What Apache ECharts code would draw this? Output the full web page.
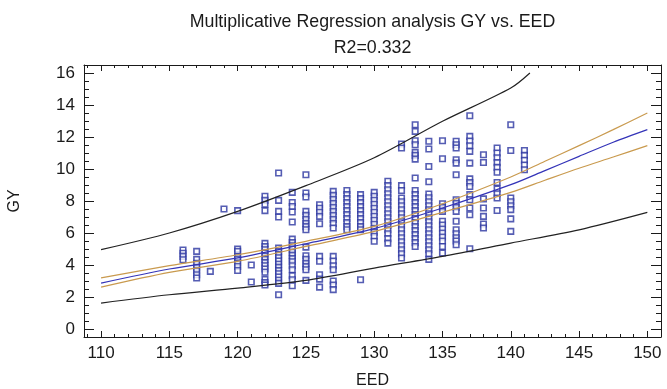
<!DOCTYPE html>
<html>
<head>
<meta charset="utf-8">
<script src="https://cdn.jsdelivr.net/npm/echarts@6/dist/echarts.min.js"></script>
<style>
  html, body { margin: 0; padding: 0; background: #fff; }
  #chart { width: 667px; height: 389px; }
</style>
</head>
<body>
<div id="chart"></div>
<script>
// observed EED columns and the GY values stacked on each
var eedCols = [116, 117, 118, 119, 120, 121, 122, 123, 124, 125, 126, 127, 128, 129,
  130, 131, 132, 133, 134, 135, 136, 137, 138, 139, 140, 141];
var gyCols = [
  [4.94, 4.73, 4.54, 4.33],
  [4.85, 4.35, 4.1, 3.85, 3.64, 3.39, 3.19],
  [3.6],
  [7.5],
  [7.4, 5.0, 4.85, 4.54, 4.37, 4.12, 3.91, 3.66],
  [4.0, 2.94],
  [8.3, 8.04, 7.8, 7.4, 5.35, 5.15, 4.95, 4.75, 4.55, 4.35, 4.15, 3.95, 3.75, 3.55, 3.1, 2.9, 2.75],
  [9.75, 8.04, 7.35, 7.0, 5.06, 4.85, 4.65, 4.45, 4.25, 4.05, 3.85, 3.65, 3.45, 3.25, 3.05, 2.85, 2.14],
  [8.54, 7.91, 7.66, 7.31, 6.69, 5.62, 5.4, 5.2, 5.0, 4.8, 4.6, 4.4, 4.2, 3.95, 3.7, 3.33, 3.08, 2.7],
  [9.64, 8.5, 8.25, 7.35, 7.1, 6.85, 6.6, 6.4, 6.2, 5.12, 4.58, 4.35, 4.1, 3.9, 3.7, 3.04],
  [7.77, 7.55, 7.3, 7.04, 6.58, 4.54, 4.23, 3.39, 3.12, 2.62],
  [8.6, 8.35, 8.1, 7.85, 7.6, 7.35, 7.1, 6.85, 6.6, 6.31, 4.54, 4.25, 3.95, 3.7, 3.0, 2.75, 2.46],
  [8.66, 8.4, 8.15, 7.9, 7.65, 7.4, 7.15, 6.9, 6.65, 6.4, 6.2],
  [8.4, 8.15, 7.9, 7.65, 7.4, 7.15, 6.9, 6.65, 6.4, 6.2, 3.08],
  [8.54, 8.3, 8.05, 7.8, 7.55, 7.3, 7.05, 6.8, 6.55, 6.3, 6.05, 5.8, 5.48],
  [9.23, 8.96, 8.7, 8.45, 8.2, 7.95, 7.7, 7.45, 7.2, 6.95, 6.7, 6.45, 6.2, 5.95, 5.65, 5.37],
  [11.56, 11.31, 8.96, 8.66, 8.19, 7.95, 7.7, 7.45, 7.2, 6.95, 6.7, 6.45, 6.2, 5.95, 5.7, 5.45, 5.2, 4.95, 4.7, 4.44],
  [12.77, 12.35, 11.77, 11.52, 11.04, 10.85, 10.62, 9.44, 8.66, 8.4, 8.15, 7.9, 7.65, 7.4, 7.15, 6.9, 6.65, 6.4, 6.15, 5.9, 5.65, 5.4, 5.16],
  [11.73, 11.25, 10.16, 9.2, 8.44, 8.2, 7.95, 7.7, 7.45, 7.2, 6.95, 6.7, 6.45, 6.2, 5.95, 5.7, 5.45, 5.2, 4.95, 4.7, 4.35],
  [11.77, 10.64, 7.83, 7.6, 7.35, 6.73, 6.5, 6.25, 6.0, 5.75, 5.5, 5.16, 4.75],
  [11.73, 11.52, 11.31, 10.58, 10.37, 9.64, 8.08, 7.85, 7.6, 7.35, 6.73, 6.2, 5.95, 5.7, 5.5, 5.27],
  [13.33, 12.04, 11.75, 11.45, 11.1, 10.37, 9.38, 9.15, 8.91, 8.4, 8.08, 7.56, 7.14, 5.02],
  [10.89, 10.41, 8.13, 7.56, 7.04, 6.56, 6.31],
  [11.31, 11.0, 10.7, 10.4, 10.1, 9.8, 9.16, 8.75, 8.45, 8.19, 7.41],
  [12.77, 11.16, 8.19, 7.95, 7.7, 7.46, 6.88, 6.1],
  [11.16, 10.85, 10.55, 10.25, 9.95]
];

// fitted curve, 95% confidence band (orange), prediction band (black)
var fitX = [110, 115, 120, 125, 130, 135, 140, 142.5, 145, 147.5, 150];
var fitY = [2.87, 3.75, 4.44, 5.33, 6.27, 7.56, 9.02, 9.9, 10.79, 11.67, 12.46];
var confHi = [3.19, 3.96, 4.64, 5.48, 6.41, 7.83, 9.5, 10.48, 11.46, 12.46, 13.5];
var confLo = [2.62, 3.54, 4.23, 5.16, 6.1, 7.29, 8.54, 9.3, 10.05, 10.75, 11.46];
var predLoX = [110, 115, 120, 125, 130, 135, 140, 145, 150];
var predLo = [1.62, 2.14, 2.56, 3.04, 3.81, 4.54, 5.37, 6.2, 7.29];
var predHiX = [110, 115, 120, 125, 130, 135, 140, 141.4];
var predHi = [4.96, 6.0, 7.35, 8.96, 10.7, 12.98, 15.06, 16.0];

var xLabels = [110, 115, 120, 125, 130, 135, 140, 145, 150];
var yLabels = [0, 2, 4, 6, 8, 10, 12, 14, 16];

var xMinor = [];
for (var i = 109; i <= 151; i++) xMinor.push(i);
var yMinor = [];
for (var j = -0.5; j <= 16.5; j += 0.5) yMinor.push(j);

var pts = [];
eedCols.forEach(function (x, k) {
  gyCols[k].forEach(function (y) { pts.push([x, y]); });
});

function pairs(xs, ys) {
  return xs.map(function (x, k) { return [x, ys[k]]; });
}

var FONT = '"Liberation Sans", Arial, sans-serif';
var INK = '#1a1a1a';

function xAx(pos, ticks, len, labels, lineShow) {
  return {
    type: 'value', position: pos, min: 108.75, max: 151,
    axisLine: { show: lineShow, onZero: false, lineStyle: { color: INK, width: 1 } },
    axisTick: { show: true, inside: true, length: len, customValues: ticks, lineStyle: { color: INK } },
    axisLabel: labels ? { show: true, customValues: xLabels, fontSize: 17, color: INK, fontFamily: FONT, margin: 8 } : { show: false },
    splitLine: { show: false }
  };
}
function yAx(pos, ticks, len, labels, lineShow) {
  return {
    type: 'value', position: pos, min: -0.5, max: 16.5,
    axisLine: { show: lineShow, onZero: false, lineStyle: { color: INK, width: 1 } },
    axisTick: { show: true, inside: true, length: len, customValues: ticks, lineStyle: { color: INK } },
    axisLabel: labels ? { show: true, customValues: yLabels, fontSize: 17, color: INK, fontFamily: FONT, margin: 9 } : { show: false },
    splitLine: { show: false }
  };
}

var myChart = echarts.init(document.getElementById('chart'));

var xMain = xAx('bottom', xLabels, 6, true, true);
xMain.name = 'EED';
xMain.nameLocation = 'middle';
xMain.nameGap = 36;
xMain.nameTextStyle = { fontSize: 16, color: INK, fontFamily: FONT };

var yMain = yAx('left', yLabels, 10, true, true);
yMain.name = 'GY';
yMain.nameLocation = 'middle';
yMain.nameGap = 61;
yMain.nameTextStyle = { fontSize: 16, color: INK, fontFamily: FONT };

var option = {
  backgroundColor: '#fff',
  animation: false,
  grid: { left: 84, right: 6, top: 65, bottom: 52, containLabel: false, outerBoundsMode: 'none' },
  graphic: [
    { type: 'text', x: 372.5, y: 22, style: { text: 'Multiplicative Regression analysis GY vs. EED', font: '17.8px ' + FONT, fill: INK, align: 'center', verticalAlign: 'middle' } },
    { type: 'text', x: 372.5, y: 48.5, style: { text: 'R2=0.332', font: '17.8px ' + FONT, fill: INK, align: 'center', verticalAlign: 'middle' } }
  ],
  xAxis: [
    xMain,
    xAx('bottom', xMinor, 3, false, false),
    xAx('top', xLabels, 6, false, true),
    xAx('top', xMinor, 3, false, false)
  ],
  yAxis: [
    yMain,
    yAx('left', yMinor, 5, false, false),
    yAx('right', yLabels, 10, false, true),
    yAx('right', yMinor, 5, false, false)
  ],
  series: [
    {
      name: 'GY', type: 'scatter', data: pts,
      symbol: 'rect', symbolSize: 5.5,
      itemStyle: { color: '#ffffff', borderColor: '#2a34a0', borderWidth: 1.6 },
      z: 2
    },
    { name: 'fit', type: 'line', data: pairs(fitX, fitY), smooth: 0.3, showSymbol: false, lineStyle: { color: '#3434b8', width: 1.2 }, z: 3 },
    { name: 'conf hi', type: 'line', data: pairs(fitX, confHi), smooth: 0.3, showSymbol: false, lineStyle: { color: '#c99a4e', width: 1.2 }, z: 3 },
    { name: 'conf lo', type: 'line', data: pairs(fitX, confLo), smooth: 0.3, showSymbol: false, lineStyle: { color: '#c99a4e', width: 1.2 }, z: 3 },
    { name: 'pred hi', type: 'line', data: pairs(predHiX, predHi), smooth: 0.3, showSymbol: false, lineStyle: { color: '#222', width: 1.2 }, z: 3 },
    { name: 'pred lo', type: 'line', data: pairs(predLoX, predLo), smooth: 0.3, showSymbol: false, lineStyle: { color: '#222', width: 1.2 }, z: 3 }
  ]
};

myChart.setOption(option);
</script>
</body>
</html>
